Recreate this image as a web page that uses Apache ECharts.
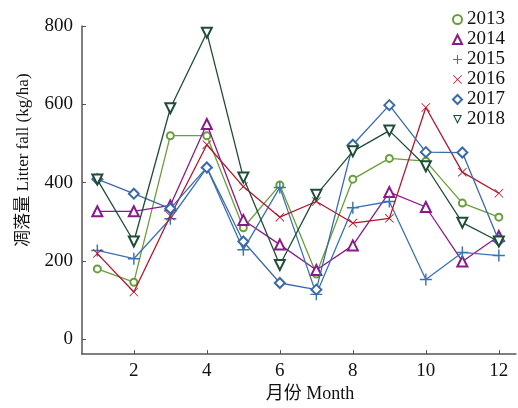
<!DOCTYPE html>
<html><head><meta charset="utf-8">
<script src="https://cdn.jsdelivr.net/npm/echarts@6/dist/echarts.min.js"></script>
<style>html,body{margin:0;padding:0;background:#fff}#c{width:518px;height:408px}</style>
</head><body><div id="c"></div>
<script>
const months = [1,2,3,4,5,6,7,8,9,10,11,12];
const years = ['2013','2014','2015','2016','2017','2018'];
const v2013 = [180,146,520,520,285,394,167,409,462,455,348,312];
const v2014 = [327,327,342,550,305,242,177,240,376,338,199,264];
const v2015 = [227,206,308,438,229,388,115,336,352,153,222,214];
const v2016 = [219,121,315,497,390,312,352,297,309,592,427,373];
const v2017 = [409,372,334,439,250,144,127,497,598,478,477,252];
const v2018 = [408,250,590,783,413,190,369,480,533,442,298,250];
const xTicks = [2,4,6,8,10,12];
const yTicks = [0,200,400,600,800];

const values = [v2013,v2014,v2015,v2016,v2017,v2018];
const colors = ['#6a9e3c','#8a1a8c','#3a72b4','#b0172c','#3a6aa8','#1f4d35'];
const PLUS = 'path://M4.4,0H5.6V4.4H10V5.6H5.6V10H4.4V5.6H0V4.4H4.4Z';
const d = 0.65;
const CROSS = `path://M${d},0L5,${5-d}L${10-d},0L10,${d}L${5+d},5L10,${10-d}L${10-d},10L5,${5+d}L${d},10L0,${10-d}L${5-d},5L0,${d}Z`;
const DOWNTRI = 'path://M0,0L10,0L5,10ZM1.94,1.2L5,7.32L8.06,1.2Z';
const symbols = ['emptyCircle','emptyTriangle',PLUS,CROSS,'emptyDiamond','emptyTriangle'];
const legendIcons = ['emptyCircle','emptyTriangle',PLUS,CROSS,'emptyDiamond',DOWNTRI];
const sizes = [7,10,12,9,10,10];
const rotates = [0,0,0,0,0,180];
const isPath = [false,false,true,true,false,false];
const legendPath = [false,false,true,true,false,true];
const FONT = '"Liberation Serif","Noto Sans CJK SC",serif';

const series = years.map((y,i)=>({
  name:y, type:'line',
  data: months.map((m,j)=>[m, values[i][j]]),
  symbol: symbols[i], symbolSize: sizes[i], symbolRotate: rotates[i],
  showAllSymbol:true,
  lineStyle:{color:colors[i], width:1.3},
  itemStyle: isPath[i] ? {color:colors[i], borderWidth:0} : {color:colors[i], borderWidth:1},
  z: 2+i
}));

const chart = echarts.init(document.getElementById('c'));
chart.setOption({
  animation:false,
  backgroundColor:'#fff',
  grid:{left:82, right:2, top:26, bottom:47},
  legend:{
    orient:'vertical', right:8, top:5, itemGap:1, itemWidth:9, itemHeight:9,
    textStyle:{fontFamily:FONT, fontSize:19, color:'#111'},
    data: years.map((y,i)=>({name:y, icon: legendIcons[i], itemStyle: legendPath[i] ? {color:colors[i], borderWidth:0} : {color:colors[i], borderWidth:1.1}}))
  },
  xAxis:{
    type:'value', min:0.58, max:12.47,
    name:'月份 Month', nameLocation:'middle', nameGap:28,
    nameTextStyle:{fontFamily:FONT, fontSize:18, color:'#111', padding:[0,0,0,22]},
    axisLine:{show:true, onZero:false, lineStyle:{color:'#555', width:1.5}},
    axisTick:{show:true, inside:true, length:4, customValues:xTicks, lineStyle:{color:'#555'}},
    axisLabel:{customValues:xTicks, fontFamily:FONT, fontSize:19, color:'#111', margin:7},
    splitLine:{show:false}
  },
  yAxis:{
    type:'value', min:-37.5, max:800,
    name:'凋落量 Litter fall (kg/ha)', nameLocation:'middle', nameGap:50,
    nameTextStyle:{fontFamily:FONT, fontSize:17, color:'#111', padding:[0,0,0,60]},
    axisLine:{show:true, onZero:false, lineStyle:{color:'#555', width:1.5}},
    axisTick:{show:true, inside:true, length:4, customValues:yTicks, lineStyle:{color:'#555'}},
    axisLabel:{customValues:yTicks, fontFamily:FONT, fontSize:19, color:'#111', margin:9},
    splitLine:{show:false}
  },
  series
});
</script></body></html>
